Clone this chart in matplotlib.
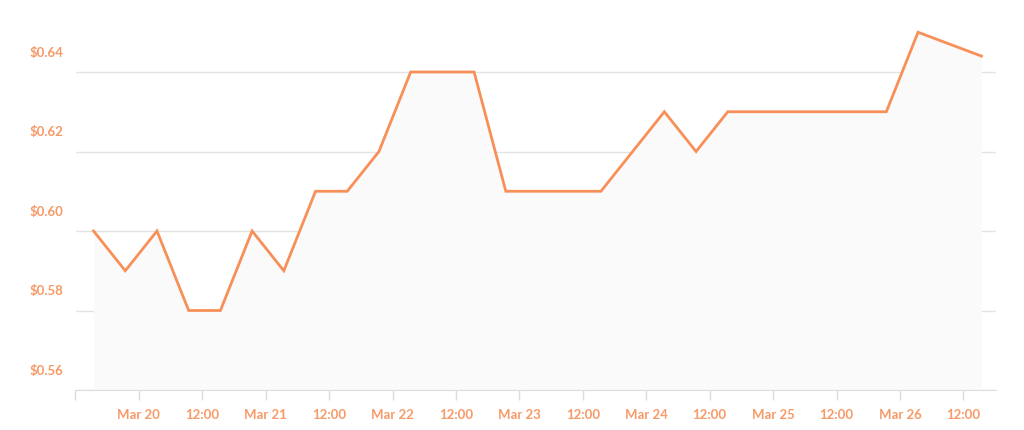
import pandas as pd
import matplotlib.pyplot as plt
from matplotlib.transforms import ScaledTranslation

# price every 6 hours
times = pd.date_range("2024-03-19 15:25", periods=29, freq="6h")
prices = [0.60, 0.59, 0.60, 0.58, 0.58, 0.60, 0.59, 0.61, 0.61, 0.62,
          0.64, 0.64, 0.64, 0.61, 0.61, 0.61, 0.61, 0.62, 0.63, 0.62,
          0.63, 0.63, 0.63, 0.63, 0.63, 0.63, 0.65, 0.647, 0.644]

y_ticks = [0.56, 0.58, 0.60, 0.62, 0.64]
y_labels = ["$0.56", "$0.58", "$0.60", "$0.62", "$0.64"]
x_ticks = pd.date_range("2024-03-19 12:00", "2024-03-26 12:00", freq="12h")
x_labels = [""] + ["Mar %d" % t.day if t.hour == 0 else "12:00" for t in x_ticks[1:]]

orange = "#f79058"
text_col = "#f69a68"

plt.rcParams["font.family"] = ["Lato", "DejaVu Sans"]
plt.rcParams["font.weight"] = "bold"

fig = plt.figure(figsize=(10.24, 4.31), dpi=100)
ax = fig.add_axes([75.5 / 1024, 40 / 431, (996 - 75.5) / 1024, (391 - 15) / 431])

ax.fill_between(times, 0.56, prices, color="#fafafa", lw=0, zorder=1)
ax.plot(times, prices, color=orange, lw=2.0, zorder=3, solid_joinstyle="miter")

ax.set_xlim(x_ticks[0], pd.Timestamp("2024-03-26 18:10"))
ax.set_ylim(0.56, 0.56 + 376 / 79.5 * 0.02)

ax.set_yticks(y_ticks)
ax.set_yticklabels(y_labels)
ax.set_xticks(x_ticks)
ax.set_xticklabels(x_labels)

ax.grid(axis="y", color="#e3e3e3", lw=1)
ax.set_axisbelow(True)
for s in ["top", "right", "left"]:
    ax.spines[s].set_visible(False)
ax.spines["bottom"].set_color("#dcdcdc")
ax.tick_params(axis="y", length=0, pad=9, labelsize=9.5, labelcolor=text_col)
ax.tick_params(axis="x", length=7, width=1, color="#dcdcdc", pad=6,
               labelsize=9.5, labelcolor=text_col)

# y labels sit above their gridlines
shift = ScaledTranslation(0, 21 / 100, fig.dpi_scale_trans)
for lab in ax.get_yticklabels():
    lab.set_transform(lab.get_transform() + shift)

fig.savefig("out.png", dpi=100)
